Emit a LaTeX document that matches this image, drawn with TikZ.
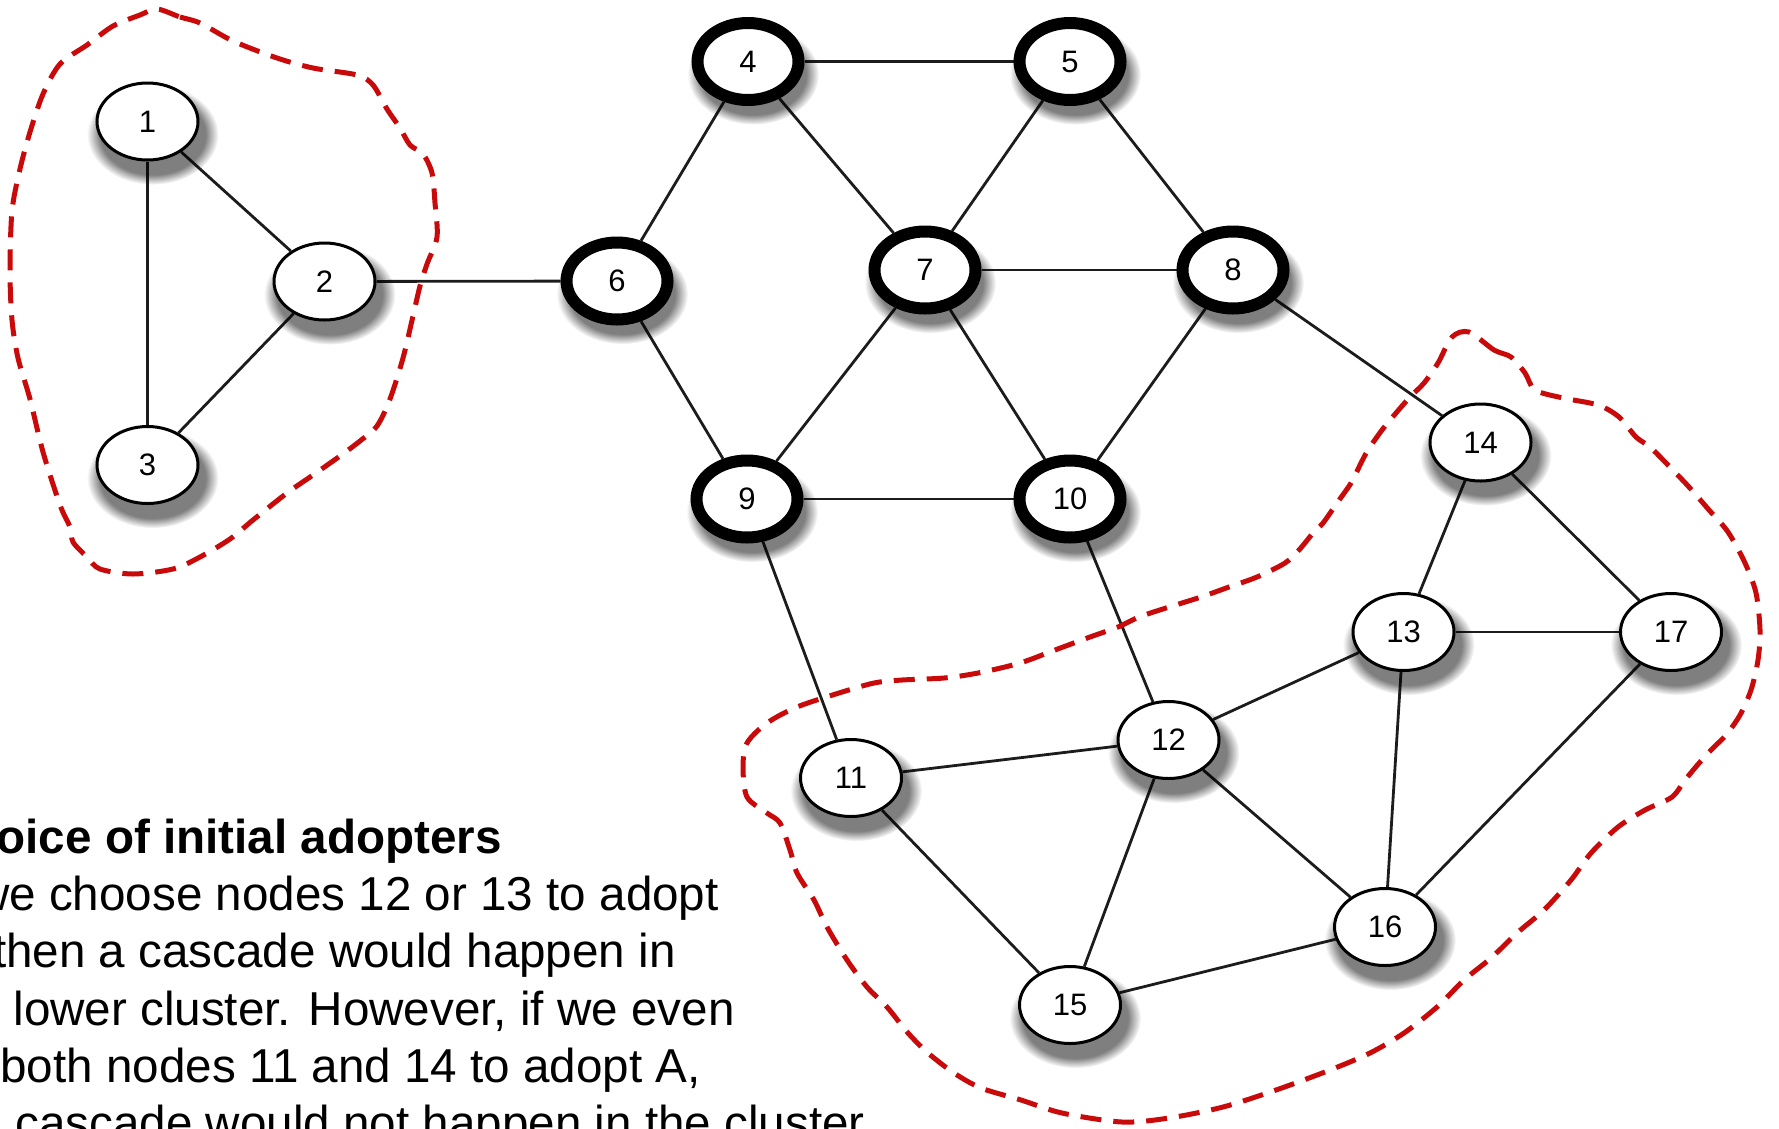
\documentclass[tikz,border=0pt]{standalone}
\usepackage{fontspec}
\setmainfont{Liberation Sans}
\usetikzlibrary{shapes.geometric,shadows,fadings,backgrounds}
\definecolor{cred}{RGB}{200,10,10}
\definecolor{edgec}{RGB}{28,28,28}
\begin{document}
\begin{tikzpicture}[x=1pt,y=-1pt,
  nd/.style={ellipse, draw=black, fill=white, minimum width=101pt, minimum height=77pt,
    inner sep=0pt, font=\fontsize{31}{31}\selectfont,
    general shadow={fill=black, opacity=0.5, path fading=circle with fuzzy edge 20 percent,
      shadow xshift=4pt, shadow yshift=-10pt, shadow scale=1.3}},
  plainnode/.style={nd, line width=3pt},
  boldnode/.style={nd, line width=12pt},
  link/.style={draw=edgec, line width=2.8pt},
  cluster/.style={draw=cred, line width=5pt, dash pattern=on 21pt off 12pt, line cap=butt},
  txt/.style={anchor=base east, inner sep=0pt, font=\fontsize{47.6}{57}\selectfont}
]
\useasboundingbox (0,0) rectangle (1779,1128);
\clip (0,0) rectangle (1779,1128);

% nodes
\node[plainnode] (n1) at (147.5,121.5) {1};
\node[plainnode] (n2) at (324.5,281.5) {2};
\node[plainnode] (n3) at (147.5,465) {3};
\node[boldnode] (n4) at (748,61.5) {4};
\node[boldnode] (n5) at (1070,61.5) {5};
\node[boldnode] (n6) at (617,281) {6};
\node[boldnode] (n7) at (925,270) {7};
\node[boldnode] (n8) at (1233,270) {8};
\node[boldnode] (n9) at (747,499) {9};
\node[boldnode] (n10) at (1070,499) {10};
\node[plainnode] (n11) at (851,778) {11};
\node[plainnode] (n12) at (1168.5,740) {12};
\node[plainnode] (n13) at (1403.5,632) {13};
\node[plainnode] (n14) at (1480.5,442.5) {14};
\node[plainnode] (n15) at (1070,1005) {15};
\node[plainnode] (n16) at (1385,927) {16};
\node[plainnode] (n17) at (1671,632) {17};

% edges
\begin{pgfonlayer}{background}
\draw[link] (n1) -- (n2);
\draw[link] (n1) -- (n3);
\draw[link] (n2) -- (n3);
\draw[link] (n2) -- (n6);
\draw[link] (n6) -- (n4);
\draw[link] (n6) -- (n9);
\draw[link] (n4) -- (n5);
\draw[link] (n4) -- (n7);
\draw[link] (n5) -- (n7);
\draw[link] (n5) -- (n8);
\draw[link] (n7) -- (n8);
\draw[link] (n7) -- (n9);
\draw[link] (n7) -- (n10);
\draw[link] (n8) -- (n10);
\draw[link] (n8) -- (n14);
\draw[link] (n9) -- (n10);
\draw[link] (n9) -- (n11);
\draw[link] (n10) -- (n12);
\draw[link] (n11) -- (n12);
\draw[link] (n11) -- (n15);
\draw[link] (n12) -- (n13);
\draw[link] (n12) -- (n15);
\draw[link] (n12) -- (n16);
\draw[link] (n13) -- (n14);
\draw[link] (n13) -- (n17);
\draw[link] (n13) -- (n16);
\draw[link] (n14) -- (n17);
\draw[link] (n16) -- (n17);
\draw[link] (n15) -- (n16);
\end{pgfonlayer}

% dashed clusters
\draw[cluster] plot[smooth cycle, tension=0.5] coordinates {
 (157,9) (180,17) (200,23) (233,41) (277,58) (313,68) (357,75) (373,85) (387,109)
 (400,128) (410,145) (423,154) (432,173) (435,203) (437,237) (427,264) (420,286)
 (413,316) (403,358) (390,399) (377,426) (360,441) (340,456) (313,475) (287,493)
 (253,520) (230,539) (200,557) (173,569) (133,574) (100,569) (87,557) (73,542)
 (70,527) (60,505) (43,452) (30,399) (18,358) (12,320) (10,271) (12,211) (20,169)
 (30,132) (43,94) (60,64) (87,45) (113,26) (140,15)};

\draw[cluster] plot[smooth cycle, tension=0.5] coordinates {
 (1469,332) (1494,350) (1511,357) (1525,373) (1535,390) (1563,398) (1598,405)
 (1619,417) (1636,437) (1650,447) (1668,465) (1689,487) (1709,510) (1728,532)
 (1745,563) (1756,593) (1760,630) (1758,660) (1751,690) (1740,715) (1726,735)
 (1713,748) (1700,762) (1685,780) (1672,797) (1645,810) (1618,827) (1591,853)
 (1571,880) (1544,910) (1517,933) (1491,958) (1464,980) (1437,1007) (1404,1033)
 (1370,1053) (1330,1070) (1276,1090) (1223,1107) (1169,1118) (1122,1122)
 (1062,1113) (1021,1100) (981,1088) (954,1073) (928,1053) (908,1033) (887,1007)
 (867,987) (847,960) (827,927) (814,900) (797,873) (790,850) (780,823) (767,813)
 (747,797) (743,767) (747,743) (767,723) (797,707) (839,693) (874,683) (902,680)
 (944,678) (978,673) (1020,663) (1055,650) (1090,637) (1118,627) (1139,617)
 (1166,608) (1201,597) (1229,587) (1257,577) (1285,563) (1299,550) (1313,533)
 (1323,523) (1337,503) (1351,483) (1361,463) (1368,450) (1382,430) (1396,413)
 (1410,397) (1424,383) (1438,363) (1452,337)};

% text
\node[txt, font=\fontsize{47.6}{57}\selectfont\bfseries] (t1) at (502,853) {Choice of initial adopters};
\node[txt] (t2) at (719,910) {we choose nodes 12 or 13 to adopt};
\node[txt] (t3) at (676,967) {then a cascade would happen in};
\node[txt] (t4) at (735,1025) {lower cluster. However, if we even};
\node[txt] (t5) at (701,1082) {both nodes 11 and 14 to adopt A,};
\node[txt] (t6) at (865,1139) {cascade would not happen in the cluster};
\end{tikzpicture}
\end{document}
